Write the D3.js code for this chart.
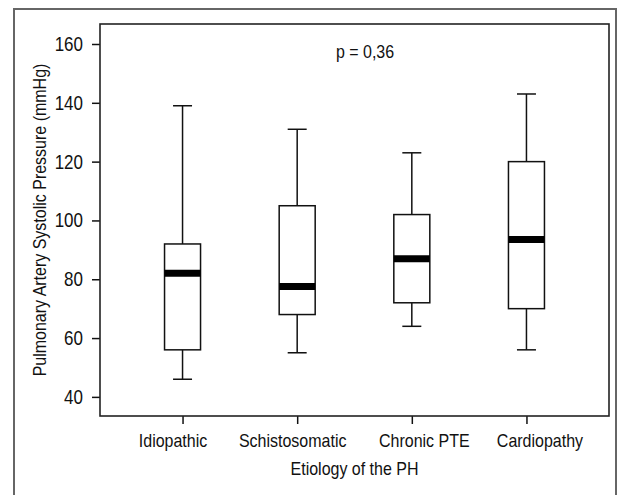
<!DOCTYPE html>
<html>
<head>
<meta charset="utf-8">
<script src="https://cdn.jsdelivr.net/npm/d3@7"></script>
<style>
    body { margin: 0; background: #fff; }
    text { font-family: 'Liberation Sans', Arial, sans-serif; fill: #111; }
</style>
</head>
<body>
<div id="viz"></div>
<script>

// data
var etiologias = ['Idiopathic', 'Schistosomatic', 'Chronic PTE', 'Cardiopathy'];
var minimos = [46, 55, 64, 56];
var q1 = [56, 68, 72, 70];
var medianas = [82, 77.5, 87, 93.5];
var q3 = [92, 105, 102, 120];
var maximos = [139, 131, 123, 143];
var yTicks = [40, 60, 80, 100, 120, 140, 160];
var pTexto = 'p = 0,36';

var data = etiologias.map(function(d, i){
    return {nome: d, min: minimos[i], q1: q1[i], med: medianas[i], q3: q3[i], max: maximos[i]};
});

var width = 622,
    height = 495;

var plot = {left: 100, top: 24, right: 609, bottom: 416};

// the original type is a bit taller than Arial, stretch it vertically
var esticar = 'scale(1,1.2)';
// category labels in the original are nudged off their ticks
var labelDx = [-10, -5, 12, 13];

var svg = d3
    .select('#viz')
    .append('svg')
    .attr('width', width)
    .attr('height', height)
    ;

// moldura externa - outer frame (no bottom edge visible)
svg.append('path')
    .attr('d', 'M14,' + height + 'V9H616V' + height)
    .attr('fill', 'none')
    .attr('stroke', '#666')
    .attr('stroke-width', 2)
    ;

var x = d3.scalePoint()
    .domain(etiologias)
    .range([plot.left, plot.right])
    .padding(0.72)
    ;

var y = d3.scaleLinear()
    .domain([33.5, 166.8])
    .range([plot.bottom, plot.top])
    ;

// eixos - axes
var yAxis = svg.append('g')
    .attr('transform', 'translate(' + plot.left + ',0)')
    .call(d3.axisLeft(y).tickValues(yTicks).tickSize(8).tickPadding(9))
    ;

var xAxis = svg.append('g')
    .attr('transform', 'translate(0,' + plot.bottom + ')')
    .call(d3.axisBottom(x).tickSize(8))
    ;

svg.selectAll('.domain').remove();
svg.selectAll('.tick line').attr('stroke', '#111').attr('stroke-width', 1.5);

yAxis.selectAll('text')
    .style('font-size', '17px')
    .attr('fill', '#111')
    .attr('transform', esticar)
    ;

xAxis.selectAll('text')
    .style('font-size', '16px')
    .attr('fill', '#111')
    .attr('y', 0)
    .attr('dy', 0)
    .attr('transform', function(d, i){ return 'translate(' + labelDx[i] + ',31) ' + esticar; })
    ;

// caixa do grafico - plot frame
svg.append('rect')
    .attr('x', plot.left)
    .attr('y', plot.top)
    .attr('width', plot.right - plot.left)
    .attr('height', plot.bottom - plot.top)
    .attr('fill', 'none')
    .attr('stroke', '#222')
    .attr('stroke-width', 1.6)
    ;

var boxW = 36,
    capW = 19;

var g = svg.selectAll('g.caixa')
    .data(data)
    .enter()
    .append('g')
    .attr('class', 'caixa')
    .attr('transform', function(d){ return 'translate(' + x(d.nome) + ',0)'; })
    ;

// bigodes - whiskers
g.append('line')
    .attr('x1', 0).attr('x2', 0)
    .attr('y1', function(d){ return y(d.max); })
    .attr('y2', function(d){ return y(d.q3); })
    .attr('stroke', '#111').attr('stroke-width', 1.5)
    ;

g.append('line')
    .attr('x1', 0).attr('x2', 0)
    .attr('y1', function(d){ return y(d.q1); })
    .attr('y2', function(d){ return y(d.min); })
    .attr('stroke', '#111').attr('stroke-width', 1.5)
    ;

g.append('line')
    .attr('x1', -capW/2).attr('x2', capW/2)
    .attr('y1', function(d){ return y(d.max); })
    .attr('y2', function(d){ return y(d.max); })
    .attr('stroke', '#111').attr('stroke-width', 1.5)
    ;

g.append('line')
    .attr('x1', -capW/2).attr('x2', capW/2)
    .attr('y1', function(d){ return y(d.min); })
    .attr('y2', function(d){ return y(d.min); })
    .attr('stroke', '#111').attr('stroke-width', 1.5)
    ;

g.append('rect')
    .attr('x', -boxW/2)
    .attr('width', boxW)
    .attr('y', function(d){ return y(d.q3); })
    .attr('height', function(d){ return y(d.q1) - y(d.q3); })
    .attr('fill', '#fff')
    .attr('stroke', '#111')
    .attr('stroke-width', 1.5)
    ;

// mediana - thick median bar
g.append('line')
    .attr('x1', -boxW/2).attr('x2', boxW/2)
    .attr('y1', function(d){ return y(d.med); })
    .attr('y2', function(d){ return y(d.med); })
    .attr('stroke', '#000').attr('stroke-width', 7)
    ;

svg.append('text')
    .text(pTexto)
    .attr('transform', 'translate(365,58) ' + esticar)
    .attr('text-anchor', 'middle')
    .style('font-size', '16px')
    ;

svg.append('text')
    .text('Etiology of the PH')
    .attr('transform', 'translate(' + (plot.left + plot.right) / 2 + ',475) ' + esticar)
    .attr('text-anchor', 'middle')
    .style('font-size', '16px')
    ;

svg.append('text')
    .text('Pulmonary Artery Systolic Pressure (mmHg)')
    .attr('transform', 'translate(46,' + (plot.top + plot.bottom) / 2 + ') rotate(-90) ' + esticar)
    .attr('text-anchor', 'middle')
    .style('font-size', '16px')
    ;

</script>
</body>
</html>
